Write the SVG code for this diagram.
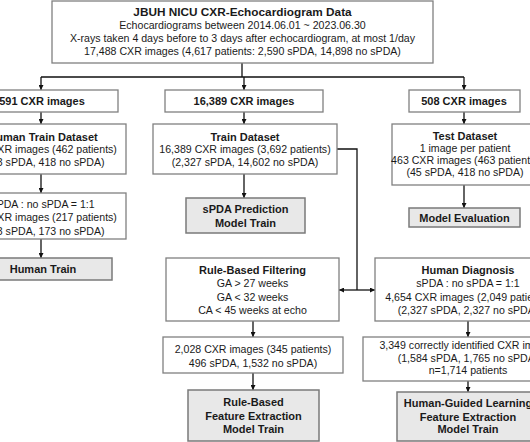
<svg xmlns="http://www.w3.org/2000/svg" width="530" height="442" viewBox="0 0 530 442">
<defs>
<marker id="ah" viewBox="0 0 10 10" refX="10" refY="5" markerWidth="5" markerHeight="5" orient="auto" markerUnits="userSpaceOnUse">
<path d="M0,0 L10,5 L0,10 z" fill="#111"/>
</marker>
<style>
.box{fill:#fff;stroke:#808080;stroke-width:1.3}
.gbox{fill:#e8e8e8;stroke:#7a7a7a;stroke-width:1.5}
text{font-family:"Liberation Sans",Arial,sans-serif;font-size:10.6px;fill:#1a1a1a;text-anchor:middle}
.b{font-weight:bold;font-size:11px}
.c{fill:none;stroke:#111;stroke-width:1.3}
.a{marker-end:url(#ah)}
</style>
</defs>
<rect width="530" height="442" fill="#fff"/>

<g id="connectors">
<path class="c" d="M242,63 V77 M41,77 H464"/>
<path class="c a" d="M41,77 V90"/>
<path class="c a" d="M244,77 V90"/>
<path class="c a" d="M464,77 V90"/>
<path class="c a" d="M41,112 V124"/>
<path class="c a" d="M244,112 V124"/>
<path class="c a" d="M464,112 V124"/>
<path class="c a" d="M41,174 V193"/>
<path class="c a" d="M244,174 V198"/>
<path class="c a" d="M464,185 V208"/>
<path class="c a" d="M41,239 V258"/>
<path class="c" d="M337,149 H357 V290"/>
<path class="c a" d="M357,290 H339"/>
<path class="c a" d="M357,290 H375"/>
<path class="c a" d="M253,321 V337"/>
<path class="c a" d="M253,373 V390"/>
<path class="c a" d="M468,321 V337"/>
<path class="c a" d="M468,381 V392"/>
</g>

<g id="source">
<rect class="box" x="52" y="1" width="381" height="62"/>
<text class="b" x="242.5" y="16" style="font-size:11.8px">JBUH NICU CXR-Echocardiogram Data</text>
<text x="242.5" y="29">Echocardiograms between 2014.06.01 ~ 2023.06.30</text>
<text x="242.5" y="42">X-rays taken 4 days before to 3 days after echocardiogram, at most 1/day</text>
<text x="242.5" y="55">17,488 CXR images (4,617 patients: 2,590 sPDA, 14,898 no sPDA)</text>
</g>

<g id="n591">
<rect class="box" x="-36" y="90" width="154" height="22"/>
<text class="b" x="42" y="105">591 CXR images</text>
</g>
<g id="n16389">
<rect class="box" x="165" y="90" width="158" height="22"/>
<text class="b" x="244" y="105">16,389 CXR images</text>
</g>
<g id="n508">
<rect class="box" x="409" y="90" width="111" height="22"/>
<text class="b" x="464" y="105">508 CXR images</text>
</g>

<g id="humanTrainDataset">
<rect class="box" x="-44" y="124" width="170" height="50"/>
<text class="b" x="43" y="141">Human Train Dataset</text>
<text x="43" y="153">591 CXR images (462 patients)</text>
<text x="43" y="166">(173 sPDA, 418 no sPDA)</text>
</g>
<g id="trainDataset">
<rect class="box" x="153" y="124" width="184" height="50"/>
<text class="b" x="245" y="141">Train Dataset</text>
<text x="245" y="153">16,389 CXR images (3,692 patients)</text>
<text x="245" y="166">(2,327 sPDA, 14,602 no sPDA)</text>
</g>
<g id="testDataset">
<rect class="box" x="392" y="124" width="146" height="61"/>
<text class="b" x="465" y="140">Test Dataset</text>
<text x="465" y="152">1 image per patient</text>
<text x="465" y="164">463 CXR images (463 patients)</text>
<text x="465" y="176">(45 sPDA, 418 no sPDA)</text>
</g>

<g id="balanced">
<rect class="box" x="-44" y="193" width="170" height="46"/>
<text x="43" y="207.5">sPDA : no sPDA = 1:1</text>
<text x="43" y="220.5">346 CXR images (217 patients)</text>
<text x="43" y="234.5">(173 sPDA, 173 no sPDA)</text>
</g>
<g id="sPDAPrediction">
<rect class="gbox" x="186" y="198" width="119" height="35"/>
<text class="b" x="245.5" y="213">sPDA Prediction</text>
<text class="b" x="245.5" y="227">Model Train</text>
</g>
<g id="modelEvaluation">
<rect class="gbox" x="409" y="208" width="111" height="19"/>
<text class="b" x="464.5" y="221.5">Model Evaluation</text>
</g>
<g id="humanTrain">
<rect class="gbox" x="-28" y="258" width="140" height="22"/>
<text class="b" x="43" y="273">Human Train</text>
</g>

<g id="ruleFiltering">
<rect class="box" x="166" y="258" width="173" height="63"/>
<text class="b" x="252.5" y="274">Rule-Based Filtering</text>
<text x="252.5" y="287">GA &gt; 27 weeks</text>
<text x="252.5" y="301">GA &lt; 32 weeks</text>
<text x="252.5" y="314">CA &lt; 45 weeks at echo</text>
</g>
<g id="humanDiagnosis">
<rect class="box" x="375" y="258" width="186" height="63"/>
<text class="b" x="468" y="274">Human Diagnosis</text>
<text x="468" y="287">sPDA : no sPDA = 1:1</text>
<text x="468" y="301">4,654 CXR images (2,049 patients)</text>
<text x="468" y="314">(2,327 sPDA, 2,327 no sPDA)</text>
</g>

<g id="n2028">
<rect class="box" x="163" y="337" width="180" height="36"/>
<text x="253" y="352.5">2,028 CXR images (345 patients)</text>
<text x="253" y="366.5">496 sPDA, 1,532 no sPDA)</text>
</g>
<g id="n3349">
<rect class="box" x="363" y="337" width="210" height="44"/>
<text x="468" y="349">3,349 correctly identified CXR images</text>
<text x="468" y="361.5">(1,584 sPDA, 1,765 no sPDA)</text>
<text x="468" y="374">n=1,714 patients</text>
</g>

<g id="ruleModel">
<rect class="gbox" x="188" y="390" width="131" height="51"/>
<text class="b" x="253.5" y="406">Rule-Based</text>
<text class="b" x="253.5" y="420">Feature Extraction</text>
<text class="b" x="253.5" y="433">Model Train</text>
</g>
<g id="humanGuidedModel">
<rect class="gbox" x="397" y="392" width="142" height="49"/>
<text class="b" x="468" y="407">Human-Guided Learning</text>
<text class="b" x="468" y="420.5">Feature Extraction</text>
<text class="b" x="468" y="433">Model Train</text>
</g>
</svg>
